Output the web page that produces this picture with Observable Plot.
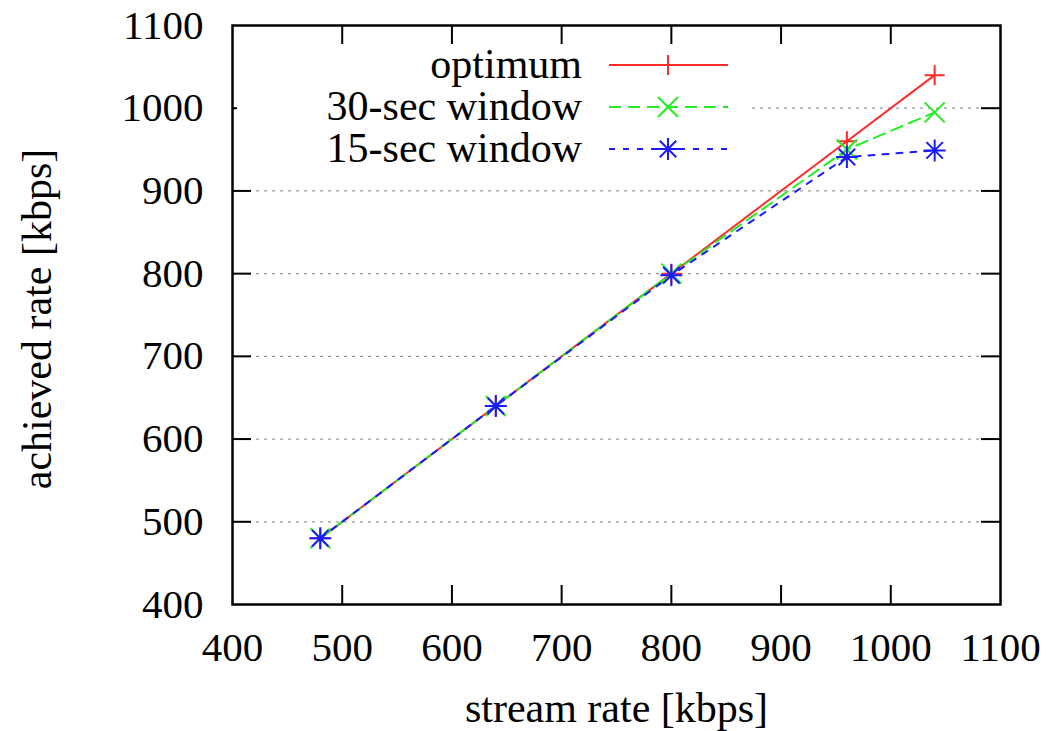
<!DOCTYPE html>
<html>
<head>
<meta charset="utf-8">
<script src="https://cdn.jsdelivr.net/npm/d3@7"></script>
<script src="https://cdn.jsdelivr.net/npm/@observablehq/plot@0.6"></script>
<style>
  html, body { margin: 0; padding: 0; background: #fff; }
  #chart svg { display: block; }
</style>
</head>
<body>
<div id="chart"></div>
<script>
// ---- data ----
const streamRate = [480, 640, 800, 960, 1040];
const optimum    = [480, 640, 800, 960, 1040];
const window30   = [480, 640, 800, 950, 995];
const window15   = [480, 640, 798, 941, 949];
const seriesNames = ["optimum", "30-sec window", "15-sec window"];
const xTicks = [400, 500, 600, 700, 800, 900, 1000, 1100];
const yTicks = [400, 500, 600, 700, 800, 900, 1000, 1100];
const gridValues = [500, 600, 700, 800, 900, 1000];
const xLabel = "stream rate [kbps]";
const yLabel = "achieved rate [kbps]";

// ---- styles ----
const colors = ["#ff2a2a", "#22ee22", "#1a1aff"];
const dashes = [null, "12,7", "6,8"];
const FONT = "'Liberation Serif', 'Times New Roman', serif";
const FS_TICK = 41;
const FS = 42;

function plusSym(ctx, r) { ctx.moveTo(-r, 0); ctx.lineTo(r, 0); ctx.moveTo(0, -r); ctx.lineTo(0, r); }
function timesSym(ctx, r) { ctx.moveTo(-r, -r); ctx.lineTo(r, r); ctx.moveTo(-r, r); ctx.lineTo(r, -r); }
const symbols = [
  { draw(ctx, size) { plusSym(ctx, Math.sqrt(size / Math.PI)); } },
  { draw(ctx, size) { timesSym(ctx, Math.sqrt(size / Math.PI)); } },
  { draw(ctx, size) { const r = Math.sqrt(size / Math.PI); plusSym(ctx, r); timesSym(ctx, r * 0.75); } }
];

const seriesValues = [optimum, window30, window15];
const table = seriesValues.map((vals, s) =>
  streamRate.map((x, i) => ({ x, y: vals[i], series: seriesNames[s] })));

const W = 1059, H = 731;
const mL = 232, mR = 59, mT = 25, mB = 127;
const innerW = W - mL - mR, innerH = H - mT - mB;
const TICK = 19;
const innerX = xTicks.slice(1, -1), innerY = yTicks.slice(1, -1);

const marks = [
  Plot.ruleY(gridValues, { y: d => d, stroke: "#9a9a9a", strokeWidth: 1.2, strokeDasharray: "3,5" })
];
table.forEach((rows, s) => {
  marks.push(Plot.line(rows, { x: "x", y: "y", stroke: colors[s], strokeWidth: 2, strokeDasharray: dashes[s] }));
});
table.forEach((rows, s) => {
  marks.push(Plot.dot(rows, { x: "x", y: "y", symbol: symbols[s], r: s === 2 ? 11 : 10, fill: "none", stroke: colors[s], strokeWidth: 2 }));
});
marks.push(
  // inward ticks on all four sides
  Plot.ruleX(innerX, { x: d => d, insetTop: innerH - TICK, stroke: "black", strokeWidth: 2 }),
  Plot.ruleX(innerX, { x: d => d, insetBottom: innerH - TICK, stroke: "black", strokeWidth: 2 }),
  Plot.ruleY(innerY, { y: d => d, insetRight: innerW - TICK, stroke: "black", strokeWidth: 2 }),
  Plot.ruleY(innerY, { y: d => d, insetLeft: innerW - TICK, stroke: "black", strokeWidth: 2 }),
  Plot.frame({ stroke: "black", strokeWidth: 2.5 }),
  Plot.axisX({ ticks: xTicks, tickSize: 0, tickPadding: 27, fontSize: FS_TICK, label: null, tickFormat: d => String(d) }),
  Plot.axisY({ ticks: yTicks, tickSize: 0, tickPadding: 29, fontSize: FS_TICK, label: null, tickFormat: d => String(d) }),
  Plot.text([xLabel], { frameAnchor: "bottom", text: d => d, dy: 117, fontSize: FS, lineAnchor: "bottom", textAnchor: "middle", fill: "black" }),
  Plot.text([yLabel], { frameAnchor: "left", text: d => d, dx: -195, dy: 4, rotate: -90, fontSize: FS, lineAnchor: "middle", textAnchor: "middle", fill: "black" })
);

const chart = Plot.plot({
  width: W, height: H,
  marginLeft: mL, marginRight: mR, marginTop: mT, marginBottom: mB,
  x: { domain: [400, 1100] },
  y: { domain: [400, 1100] },
  style: { fontFamily: FONT, fontSize: FS + "px", color: "black", background: "white" },
  marks
});
document.getElementById("chart").appendChild(chart);

// ---- legend (gnuplot-style key, top-left inside the frame) ----
const svg = d3.select(chart);
const key = svg.append("g").attr("class", "key");
key.append("rect").attr("x", 237).attr("y", 46).attr("width", 511).attr("height", 124).attr("fill", "white");
const rowY = [65, 107, 149];
seriesNames.forEach((name, s) => {
  const y = rowY[s];
  key.append("text").attr("x", 582).attr("y", y + 13).attr("text-anchor", "end")
    .attr("font-family", FONT).attr("font-size", FS).attr("fill", "black").text(name);
  key.append("line").attr("x1", 609).attr("x2", 728).attr("y1", y).attr("y2", y)
    .attr("stroke", colors[s]).attr("stroke-width", 2).attr("stroke-dasharray", dashes[s]);
  const r = s === 2 ? 11 : 10;
  const p = d3.path();
  symbols[s].draw(p, Math.PI * r * r);
  key.append("path").attr("d", p.toString()).attr("transform", `translate(668,${y})`)
    .attr("fill", "none").attr("stroke", colors[s]).attr("stroke-width", 2);
});
</script>
</body>
</html>
